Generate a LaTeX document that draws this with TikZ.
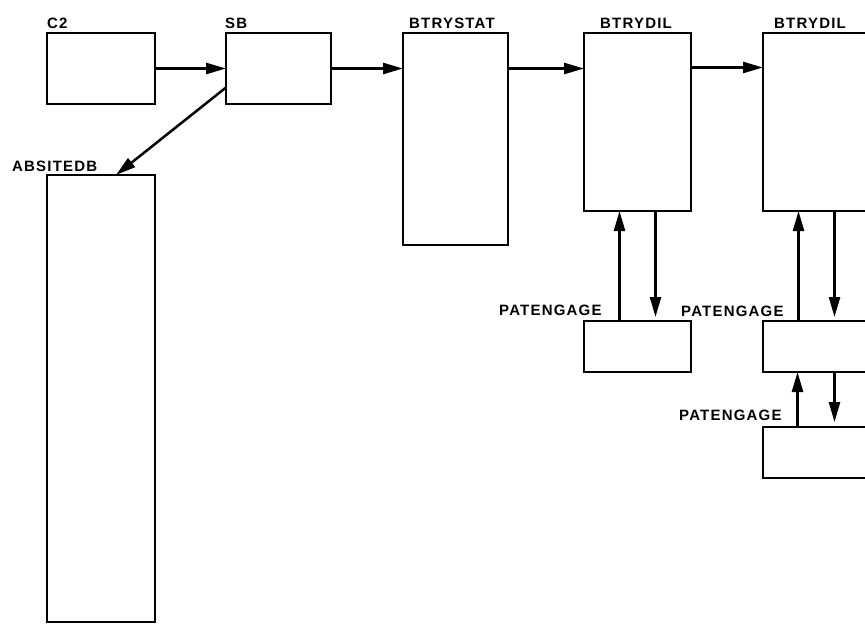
\documentclass[tikz,border=0pt]{standalone}
\usepackage{fontspec}
\newfontfamily\labfont[LetterSpace=8]{Liberation Sans}
\usetikzlibrary{arrows.meta}
\begin{document}
\begin{tikzpicture}[x=1pt,y=-1pt,
  box/.style={draw,line width=1.5pt,inner sep=0pt,outer sep=0pt,anchor=north west},
  lab/.style={anchor=base west,inner sep=0pt,font=\labfont\bfseries\fontsize{15}{17}\selectfont},
  conn/.style={line width=2.5pt,-{Triangle[length=20pt,width=11pt]}}]
\clip (0,0) rectangle (865,624);
\fill[white] (0,0) rectangle (865,624);
% boxes
\node[box,minimum width=108pt,minimum height=71pt] (c2) at (47,33) {};
\node[box,minimum width=105pt,minimum height=71pt] (sb) at (226,33) {};
\node[box,minimum width=105pt,minimum height=212pt] (btrystat) at (403,33) {};
\node[box,minimum width=107pt,minimum height=178pt] (dil1) at (584,33) {};
\node[box,minimum width=107pt,minimum height=178pt] (dil2) at (763,33) {};
\node[box,minimum width=108pt,minimum height=447pt] (absitedb) at (47,175) {};
\node[box,minimum width=107pt,minimum height=51pt] (pe1) at (584,321) {};
\node[box,minimum width=107pt,minimum height=51pt] (pe2) at (763,321) {};
\node[box,minimum width=107pt,minimum height=51pt] (pe3) at (763,427) {};
% labels
\node[lab] (lc2) at (47,28) {C2};
\node[lab] (lsb) at (225,28) {SB};
\node[lab] (lbs) at (409,28) {BTRYSTAT};
\node[lab] (ld1) at (600,28) {BTRYDIL};
\node[lab] (ld2) at (774,28) {BTRYDIL};
\node[lab] (lab) at (12,171) {ABSITEDB};
\node[lab] (lp1) at (499,315) {PATENGAGE};
\node[lab] (lp2) at (681,316) {PATENGAGE};
\node[lab] (lp3) at (679,420) {PATENGAGE};
% connectors
\draw[conn] (c2.east) -- (sb.west);
\draw[conn] (sb.east) -- (btrystat.west |- sb.east);
\draw[conn] (btrystat.east |- sb.east) -- (dil1.west |- sb.east);
\draw[conn] ([yshift=1pt]dil1.east |- sb.east) -- ([yshift=1pt]dil2.west |- sb.east);
\draw[conn] ([yshift=-19pt]sb.west) -- ([xshift=15pt]absitedb.north);
\draw[conn] ([xshift=-18pt]pe1.north) -- ([xshift=-18pt]dil1.south);
\draw[conn] ([xshift=18pt]dil1.south) -- ([xshift=18pt,yshift=4pt]pe1.north);
\draw[conn] ([xshift=-18pt]pe2.north) -- ([xshift=-18pt]dil2.south);
\draw[conn] ([xshift=18pt]dil2.south) -- ([xshift=18pt,yshift=4pt]pe2.north);
\draw[conn] ([xshift=-19pt]pe3.north) -- ([xshift=-19pt]pe2.south);
\draw[conn] ([xshift=18pt]pe2.south) -- ([xshift=18pt,yshift=5pt]pe3.north);
\end{tikzpicture}
\end{document}
